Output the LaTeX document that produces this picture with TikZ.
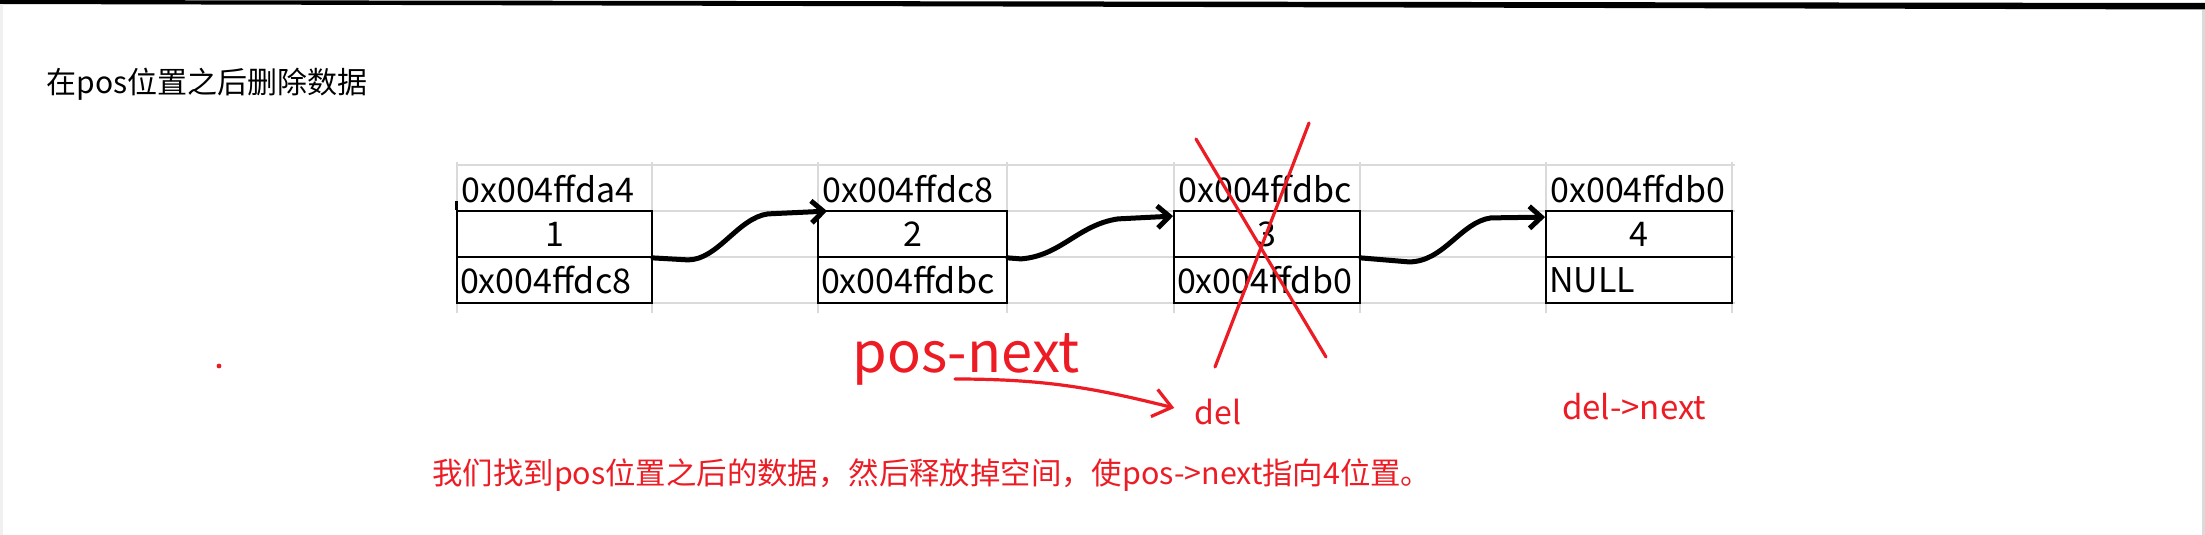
\documentclass[tikz,border=0pt]{standalone}
\usepackage{fontspec}
\setmainfont{Noto Sans CJK SC}
\usetikzlibrary{arrows.meta}
\definecolor{markred}{RGB}{237,28,36}
\definecolor{gridgray}{RGB}{218,218,218}
\tikzset{
  cell/.style={draw, line width=0.9pt, minimum height=23pt, inner xsep=1.5pt, inner ysep=0pt, font=\fontsize{17}{17}\selectfont},
  addr/.style={anchor=west, inner sep=0pt, font=\fontsize{17}{17}\selectfont},
  link/.style={line width=2.5pt, line cap=round, line join=round, -{Straight Barb[length=6pt,width=11pt]}},
  redpen/.style={draw=markred, line width=1.6pt, line cap=round, line join=round},
  redtext/.style={text=markred, inner sep=0pt}
}
\begin{document}
\begin{tikzpicture}[x=0.5pt, y=-0.5pt]
    \useasboundingbox (0,0) rectangle (2205,535);
    \fill[white] (0,0) rectangle (2205,535);
    % screenshot edges
    \fill (0,0) -- (2205,3) -- (2205,9.5) -- (0,4) -- cycle;
    \draw[gridgray, line width=1.5pt] (2203,10) -- (2203,535);
    \draw[gridgray!40, line width=1.5pt] (1,4) -- (1,535);
    % sheet grid
    \draw[gridgray, line width=0.6pt] (457,165) -- (1735,165) (457,211) -- (1735,211)
        (457,257) -- (1735,257) (457,303) -- (1735,303);
    \draw[gridgray, line width=0.6pt] (457,162) -- (457,313) (652,162) -- (652,313)
        (818,162) -- (818,313) (1007,162) -- (1007,313) (1174,162) -- (1174,313)
        (1360,162) -- (1360,313) (1546,162) -- (1546,313) (1732,162) -- (1732,313);
    \node[anchor=west, inner sep=0pt, font=\fontsize{15}{15}\selectfont] (title) at (46,84) {在pos位置之后删除数据};
    % list nodes
    \node[addr] (adr1) at (461,189) {0x004ffda4};
    \node[cell, minimum width=97.5pt] (val1) at (554.5,234) {1};
    \node[cell, text width=94.5pt, align=left] (nxt1) at (554.5,280) {0x004ffdc8};
    \node[addr] (adr2) at (822,189) {0x004ffdc8};
    \node[cell, minimum width=94.5pt] (val2) at (912.5,234) {2};
    \node[cell, text width=91.5pt, align=left] (nxt2) at (912.5,280) {0x004ffdbc};
    \node[addr] (adr3) at (1178,189) {0x004ffdbc};
    \node[cell, minimum width=93pt] (val3) at (1267,234) {3};
    \node[cell, text width=90pt, align=left] (nxt3) at (1267,280) {0x004ffdb0};
    \node[addr] (adr4) at (1550,189) {0x004ffdb0};
    \node[cell, minimum width=93pt] (val4) at (1639,234) {4};
    \node[cell, text width=90pt, align=left] (nxt4) at (1639,280) {NULL};
    \draw[line width=1.5pt] (val1.north west) -- ++(0,-9);
    % links
    \draw[link] (val1.south east) -- ++(35,2) .. controls +(30,0) and +(-30,4) .. ++(80,-46) -- ([xshift=5pt,yshift=-0.5pt]val2.north west);
    \draw[link] (val2.south east) -- ++(13,1) .. controls +(40,-3) and +(-40,6) .. ++(97,-40) -- ([yshift=-3pt]val3.north west);
    \draw[link] (val3.south east) -- ++(48,4) .. controls +(35,0) and +(-30,4) .. ++(82,-44) -- ([yshift=-3.5pt]val4.north west);
    % red marks
    \draw[redpen] ([shift={(-71,-95)}]val3.center) -- ([shift={(59,123)}]val3.center);
    \draw[redpen] ([shift={(42,-111)}]val3.center) -- ([shift={(-52,133)}]val3.center);
    \fill[markred] (219,366) circle (1.2pt);
    \node[redtext, anchor=base west, font=\fontsize{28}{28}\selectfont] (posnext) at (852,372) {pos-next};
    \node[redtext, font=\fontsize{16}{16}\selectfont] (del) at (1218,412) {del};
    \node[redtext, font=\fontsize{16.5}{16.5}\selectfont] (delnext) at (1634,407) {del->next};
    \draw[redpen, -{Straight Barb[length=9pt,width=14pt]}] ([shift={(103,7)}]posnext.base west) .. controls +(90,0) and +(-80,-20) .. ([xshift=-10pt,yshift=2pt]del.west);
    \node[redtext, anchor=west, font=\fontsize{15.2}{15.2}\selectfont] (note) at (432,475) {我们找到pos位置之后的数据，然后释放掉空间，使pos->next指向4位置。};
\end{tikzpicture}
\end{document}
